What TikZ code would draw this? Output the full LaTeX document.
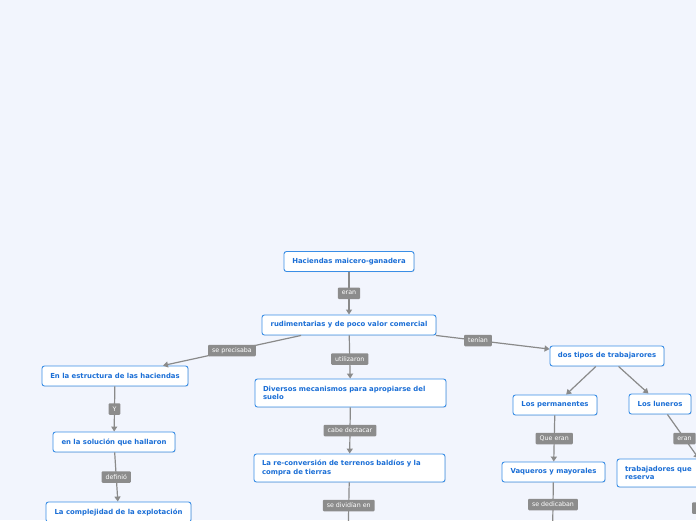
\documentclass[tikz,border=0pt]{standalone}
\usepackage{fontspec}
\setmainfont{DejaVu Sans}
\usepackage{tikz}
\usetikzlibrary{arrows.meta,calc,shadows}
\definecolor{paper}{HTML}{F2F5FD}
\definecolor{boxline}{HTML}{3A8EE6}
\definecolor{boxtext}{HTML}{1A6ED6}
\definecolor{taggray}{HTML}{8C8C8C}
\definecolor{wiregray}{HTML}{8A8A8A}
\tikzset{topic/.style={draw=boxline, fill=white, rounded corners=2.5pt, line width=0.9pt, text=boxtext, font=\bfseries\fontsize{6.9}{8.3}\selectfont, minimum height=20pt, inner xsep=6pt, drop shadow={shadow xshift=0.7pt, shadow yshift=-0.7pt, opacity=0.2}}}
\tikzset{longtopic/.style={topic, minimum height=28pt, align=left, inner xsep=8pt}}
\tikzset{tag/.style={fill=taggray, text=white, rounded corners=1pt, font=\fontsize{6.3}{7}\selectfont, inner xsep=4pt, inner ysep=0pt, minimum height=11.5pt}}
\tikzset{wire/.style={draw=wiregray, line width=1.2pt}}
\tikzset{>={Triangle[width=6pt,length=5pt]}}

\begin{document}
\begin{tikzpicture}[x=1pt, y=-1pt]
    \fill[paper] (0,0) rectangle (696,520);
    \clip (0,0) rectangle (696,520);
    % concepts
    \node[topic, minimum width=130pt] at (349,261.5) (hac) {Haciendas maicero-ganadera};
    \node[topic, minimum width=174pt] at (349,325) (rud) {rudimentarias y de poco valor comercial};
    \node[topic, minimum width=146pt] at (115,376) (estr) {En la estructura de las haciendas};
    \node[topic, minimum width=122pt] at (114,442) (sol) {en la soluci\'on que hallaron};
    \node[topic, minimum width=145pt] at (118.5,512) (comp) {La complejidad de la explotaci\'on};
    \node[longtopic, text width=175pt] at (350.5,393) (div) {Diversos mecanismos para apropiarse del\\suelo};
    \node[longtopic, text width=175pt] at (349.5,468) (rec) {La re-conversi\'on de terrenos bald\'ios y la\\compra de tierras};
    \node[topic, minimum width=114pt] at (607,356) (dos) {dos tipos de trabajarores};
    \node[topic, minimum width=84pt] at (555,405) (perm) {Los permanentes};
    \node[topic, minimum width=62pt] at (660,404) (lun) {Los luneros};
    \node[topic, minimum width=103pt] at (553.5,472) (vaq) {Vaqueros y mayorales};
    \node[longtopic, text width=168pt] at (709,473) (trab) {trabajadores que\\reserva};
    \coordinate (recout) at (348,543);
    \coordinate (vaqout) at (552.5,537);
    \coordinate (trabout) at (715,543);

    % connectors
    \draw [wire, ->] (hac) -- (rud);
    \draw [wire, ->] (rud) -- (estr);
    \draw [wire, ->] (rud) -- (div);
    \draw [wire, ->] (rud) -- (dos);
    \draw [wire, ->] (estr) -- (sol);
    \draw [wire, ->] (sol) -- (comp);
    \draw [wire, ->] (div) -- (rec);
    \draw [wire, ->] (rec) -- (recout);
    \draw [wire, ->] (dos) -- (perm);
    \draw [wire, ->] (dos) -- (lun);
    \draw [wire, ->] (perm) -- (vaq);
    \draw [wire, ->] (vaq) -- (vaqout);
    \draw [wire, ->] (lun) -- (trab);
    \draw [wire, ->] (trab) -- (trabout);

    % link words
    \node[tag] at ($(hac)!0.5!(rud)$) (eran) {eran};
    \node[tag] at ($(rud)!0.5!(estr)$) (prec) {se precisaba};
    \node[tag] at ($(rud)!0.5!(div)$) (util) {utilizaron};
    \node[tag] at ($(rud)!0.5!(dos)$) (ten) {ten\'ian};
    \node[tag] at ($(estr)!0.5!(sol)$) (y) {Y};
    \node[tag] at ($(sol)!0.5!(comp)$) (defi) {defini\'o};
    \node[tag] at ($(div)!0.5!(rec)$) (cabe) {cabe destacar};
    \node[tag] at ($(rec)!0.5!(recout)$) (divi) {se divid\'ian en};
    \node[tag] at ($(perm)!0.5!(vaq)$) (que) {Que eran};
    \node[tag] at ($(vaq)!0.5!(vaqout)$) (dedi) {se dedicaban};
    \node[tag] at ($(lun)!0.5!(trab)$) (eran2) {eran};
    \node[tag, minimum width=40pt] at ($(trab)!0.5!(trabout)$) (trabtag) {};
\end{tikzpicture}
\end{document}
